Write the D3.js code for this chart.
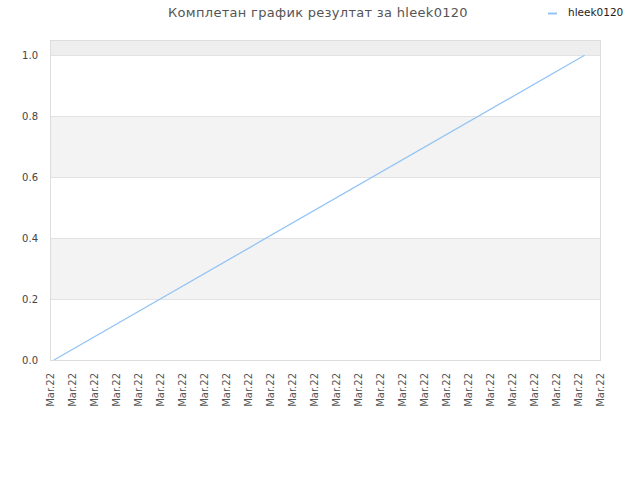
<!DOCTYPE html>
<html>
<head>
<meta charset="utf-8">
<script src="https://cdn.jsdelivr.net/npm/d3@7"></script>
<style>
body { margin: 0; background: #fff; }
text { font-family: "DejaVu Sans", sans-serif; }
</style>
</head>
<body>
<div id="chart"></div>
<script>
// chart data
var title = "Комплетан график резултат за hleek0120";
var seriesName = "hleek0120";
var xLabels = ["Mar.22","Mar.22","Mar.22","Mar.22","Mar.22","Mar.22","Mar.22","Mar.22","Mar.22",
               "Mar.22","Mar.22","Mar.22","Mar.22","Mar.22","Mar.22","Mar.22","Mar.22","Mar.22",
               "Mar.22","Mar.22","Mar.22","Mar.22","Mar.22","Mar.22","Mar.22","Mar.22"];
var seriesTime = [0.18, 24.3];   // position on the time axis (tick units)
var seriesValues = [0, 1];
var yTicks = [0, 0.2, 0.4, 0.6, 0.8, 1.0];

var width = 640, height = 480;
// plot box (don't call these top/left, window.top is read only)
var plotLeft = 50, plotRight = 600, plotTop = 40, plotBottom = 360;

var svg = d3.select("#chart").append("svg")
            .attr("width", width)
            .attr("height", height);

var x = d3.scaleLinear().domain([0, xLabels.length - 1]).range([plotLeft, plotRight]);
var y = d3.scaleLinear().domain([0, 1.05]).range([plotBottom, plotTop]);

// alternating bands
var bands = [[0.2, 0.4], [0.6, 0.8]];
svg.selectAll("rect.band").data(bands).enter().append("rect")
   .attr("class", "band")
   .attr("x", plotLeft)
   .attr("y", function(d) { return y(d[1]); })
   .attr("width", plotRight - plotLeft)
   .attr("height", function(d) { return y(d[0]) - y(d[1]); })
   .attr("fill", "#f3f3f3");
svg.append("rect")
   .attr("x", plotLeft).attr("y", plotTop)
   .attr("width", plotRight - plotLeft)
   .attr("height", y(1.0) - plotTop)
   .attr("fill", "#eeeeee");

// y grid
svg.selectAll("line.grid").data(yTicks).enter().append("line")
   .attr("x1", plotLeft).attr("x2", plotRight)
   .attr("y1", function(d) { return Math.round(y(d)) + 0.5; })
   .attr("y2", function(d) { return Math.round(y(d)) + 0.5; })
   .attr("stroke", "#e2e2e2");

// frame
svg.append("rect")
   .attr("x", plotLeft + 0.5).attr("y", plotTop + 0.5)
   .attr("width", plotRight - plotLeft).attr("height", plotBottom - plotTop)
   .attr("fill", "none")
   .attr("stroke", "#dddddd");

// y axis labels
svg.selectAll("text.ylab").data(yTicks).enter().append("text")
   .attr("x", plotLeft - 12)
   .attr("y", function(d) { return y(d) + 4; })
   .attr("text-anchor", "end")
   .attr("font-size", 10)
   .attr("fill", "#444")
   .text(function(d) { return d3.format(".1f")(d); });

// x axis labels, rotated
svg.selectAll("text.xlab").data(xLabels).enter().append("text")
   .attr("transform", function(d, i) { return "translate(" + (x(i) + 4) + "," + (plotBottom + 13) + ") rotate(-90)"; })
   .attr("text-anchor", "end")
   .attr("font-size", 10)
   .attr("fill", "#555")
   .text(function(d) { return d; });

// series line
var pts = seriesValues.map(function(v, i) { return [seriesTime[i], v]; });
svg.append("path")
   .datum(pts)
   .attr("d", d3.line().x(function(d) { return x(d[0]); }).y(function(d) { return y(d[1]); }))
   .attr("fill", "none")
   .attr("stroke", "#94c4f5")
   .attr("stroke-width", 1.3);

// title
svg.append("text")
   .attr("x", 318).attr("y", 17)
   .attr("text-anchor", "middle")
   .attr("font-size", 13)
   .attr("letter-spacing", 0.3)
   .attr("fill", "#555")
   .text(title);

// legend
svg.append("line")
   .attr("x1", 548).attr("x2", 557)
   .attr("y1", 13.5).attr("y2", 13.5)
   .attr("stroke", "#94c4f5")
   .attr("stroke-width", 2);
svg.append("text")
   .attr("x", 568).attr("y", 16)
   .attr("font-family", "DejaVu Sans Condensed")
   .attr("font-size", 10.5)
   .attr("fill", "#222")
   .text(seriesName);
</script>
</body>
</html>
